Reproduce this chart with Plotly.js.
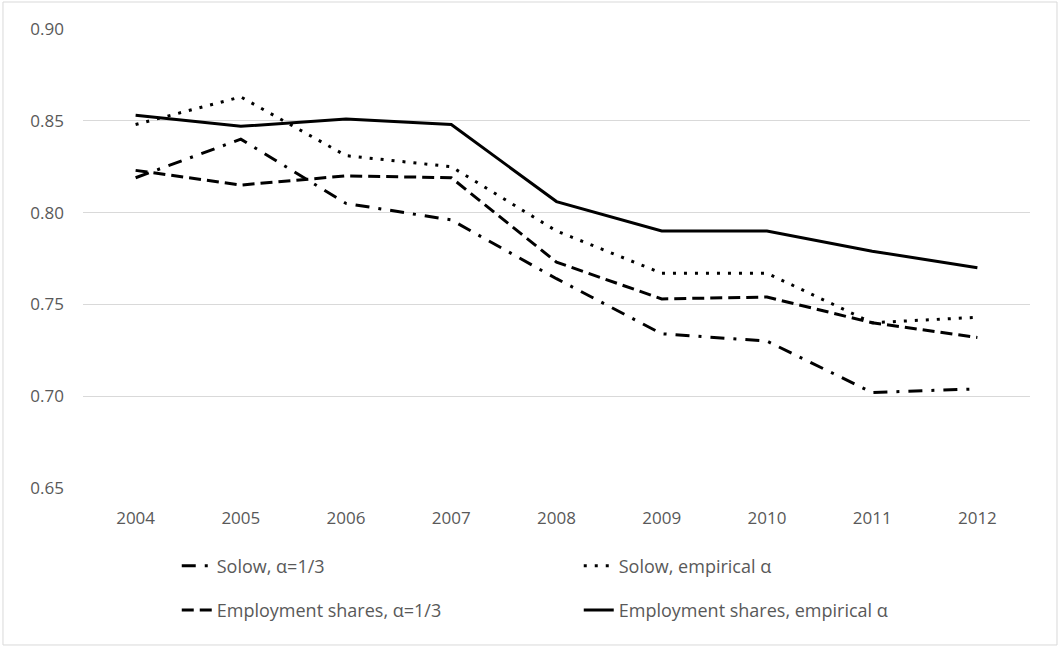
<!DOCTYPE html>
<html>
<head>
<meta charset="utf-8">
<script src="https://cdn.plot.ly/plotly-3.0.1.min.js"></script>
<style>
html,body{margin:0;padding:0;background:#fff;}
#chart{width:1061px;height:648px;}
</style>
</head>
<body>
<div id="chart"></div>
<script>
const years = ['2004','2005','2006','2007','2008','2009','2010','2011','2012'];
const solowAlpha = [0.819, 0.840, 0.805, 0.796, 0.764, 0.734, 0.730, 0.702, 0.704];
const solowEmp = [0.848, 0.863, 0.831, 0.825, 0.790, 0.767, 0.767, 0.740, 0.743];
const empAlpha = [0.823, 0.815, 0.820, 0.819, 0.773, 0.753, 0.754, 0.740, 0.732];
const empEmp = [0.853, 0.847, 0.851, 0.848, 0.806, 0.790, 0.790, 0.779, 0.770];
const yTicks = [0.65, 0.70, 0.75, 0.80, 0.85, 0.90];
const names = ['Solow, α=1/3', 'Solow, empirical α', 'Employment shares, α=1/3', 'Employment shares, empirical α'];

const textColor = '#595959';
const font = {family: 'Open Sans, Liberation Sans, sans-serif', size: 17, color: textColor};
const legFont = {family: 'Open Sans, Liberation Sans, sans-serif', size: 18, color: textColor};

const traces = [
  {x: years, y: solowAlpha, name: names[0], mode: 'lines', legend: 'legend',
   line: {color: '#000', width: 3, dash: '14px,9px,3px,9px'}},
  {x: years, y: solowEmp, name: names[1], mode: 'lines', legend: 'legend',
   line: {color: '#000', width: 3, dash: '3px,8px'}},
  {x: years, y: empAlpha, name: names[2], mode: 'lines', legend: 'legend2',
   line: {color: '#000', width: 3, dash: '12px,6px'}},
  {x: years, y: empEmp, name: names[3], mode: 'lines', legend: 'legend2',
   line: {color: '#000', width: 3}}
];

const layout = {
  width: 1061, height: 648,
  margin: {l: 83, r: 31, t: 29, b: 160},
  paper_bgcolor: '#fff', plot_bgcolor: '#fff',
  font: font,
  showlegend: true,
  xaxis: {
    type: 'category', range: [-0.5, 8.5], showgrid: false, zeroline: false, showline: false,
    ticks: '', ticklabelstandoff: 18, tickfont: font, fixedrange: true
  },
  yaxis: {
    range: [0.65, 0.90], tickvals: yTicks, tickformat: '.2f',
    showgrid: true, gridcolor: '#d9d9d9', gridwidth: 1,
    zeroline: false, showline: false, ticks: '', ticklabelstandoff: 18,
    tickfont: font, fixedrange: true
  },
  legend: {
    orientation: 'h', x: 0.099, xanchor: 'left', y: -0.13, yanchor: 'top',
    entrywidth: 357, entrywidthmode: 'pixels', font: legFont, bgcolor: 'rgba(0,0,0,0)'
  },
  legend2: {
    orientation: 'h', x: 0.099, xanchor: 'left', y: -0.226, yanchor: 'top',
    entrywidth: 357, entrywidthmode: 'pixels', font: legFont, bgcolor: 'rgba(0,0,0,0)'
  },
  shapes: [{
    type: 'rect', xref: 'paper', yref: 'paper',
    x0: -0.0845, x1: 1.0285, y0: -0.342, y1: 1.0588,
    line: {color: '#d9d9d9', width: 1}, fillcolor: 'rgba(0,0,0,0)', layer: 'below'
  }]
};

Plotly.newPlot('chart', traces, layout, {displayModeBar: false, staticPlot: true});
</script>
</body>
</html>
